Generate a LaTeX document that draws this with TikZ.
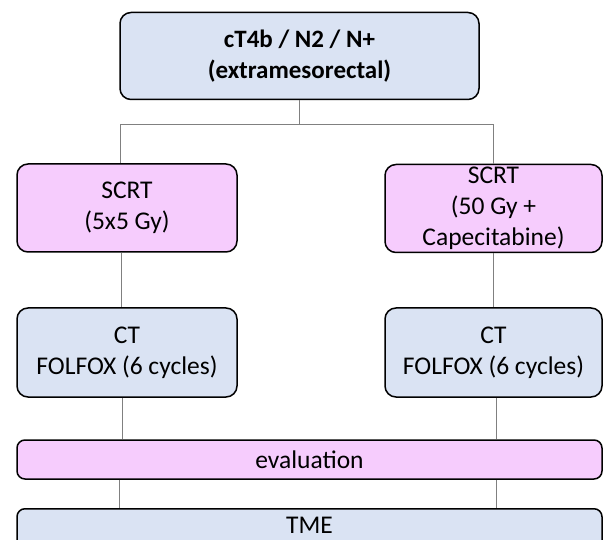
\documentclass[tikz,border=0pt]{standalone}
\usepackage{fontspec}
\setmainfont{Carlito}
\definecolor{boxblue}{HTML}{DAE3F3}
\definecolor{boxpink}{HTML}{F6CCFD}
\definecolor{conngray}{HTML}{808080}
\begin{document}
\begin{tikzpicture}[x=1pt,y=-1pt,
  box/.style={draw=black, line width=1.5pt, rounded corners=11pt, inner sep=0pt, align=center,
    font=\fontsize{25.5}{31}\selectfont},
  bluebox/.style={box, fill=boxblue},
  pinkbox/.style={box, fill=boxpink},
  conn/.style={draw=conngray, line width=1pt}]
\useasboundingbox (0,0) rectangle (603,540);
\clip (0,0) rectangle (603,540);
\node[bluebox, minimum width=359pt, minimum height=87pt, font=\fontsize{25}{31}\selectfont\bfseries] (top) at (299.5,56) {cT4b / N2 / N+\\(extramesorectal)};
\node[pinkbox, minimum width=220pt, minimum height=88pt] (scrtL) at (127,208) {SCRT\\(5x5 Gy)};
\node[pinkbox, minimum width=217pt, minimum height=88pt] (scrtR) at (493.5,208.5) {SCRT\\(50 Gy +\\Capecitabine)};
\node[bluebox, minimum width=220pt, minimum height=89pt] (ctL) at (127,352.5) {CT\\FOLFOX (6 cycles)};
\node[bluebox, minimum width=217pt, minimum height=89pt] (ctR) at (493.5,352.5) {CT\\FOLFOX (6 cycles)};
\node[pinkbox, minimum width=585pt, minimum height=39pt, rounded corners=8pt] (eval) at (309.5,459.5) {evaluation};
\node[bluebox, minimum width=585pt, minimum height=60pt, rounded corners=8pt, anchor=north] (tmebox) at (309.5,508) {};
\node[inner sep=0pt, text depth=0pt, anchor=base, font=\fontsize{25.5}{31}\selectfont] (tme) at (309.5,533) {TME};
\draw[conn] (top.south) -- ++(0,24) coordinate (j);
\draw[conn] ([xshift=-7pt]scrtL.north) |- (j) -| (scrtR.north);
\draw[conn] ([xshift=-6pt]scrtL.south) -- ([xshift=-6pt]ctL.north);
\draw[conn] (scrtR.south) -- (ctR.north);
\draw[conn] ([xshift=-5pt]ctL.south) -- ([xshift=-5pt]ctL.south |- eval.north);
\draw[conn] ([xshift=3pt]ctR.south) -- ([xshift=3pt]ctR.south |- eval.north);
\draw[conn] ([xshift=-8pt]ctL.south |- eval.south) -- ([xshift=-8pt]ctL.south |- tmebox.north);
\draw[conn] ([xshift=3pt]ctR.south |- eval.south) -- ([xshift=3pt]ctR.south |- tmebox.north);
\end{tikzpicture}
\end{document}
